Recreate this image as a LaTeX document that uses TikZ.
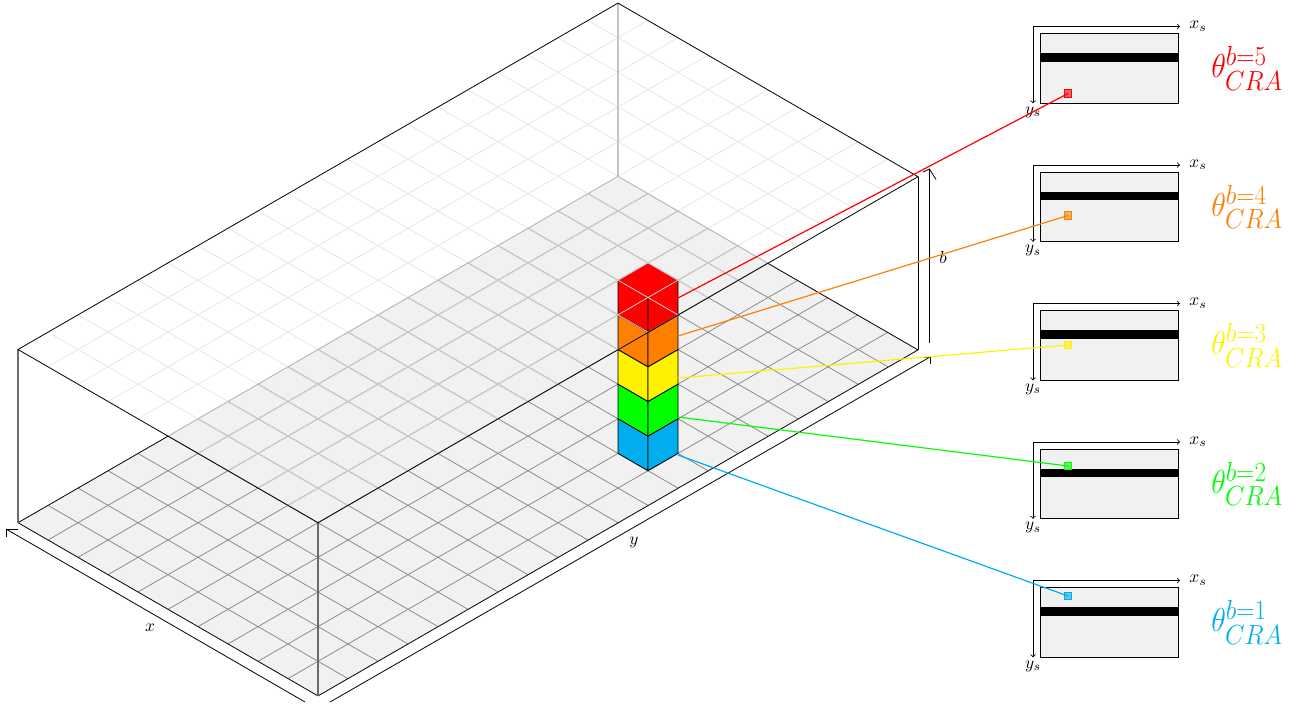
\documentclass[tikz,border=0pt]{standalone}
\usepackage{amsmath}
\definecolor{floorfill}{HTML}{F1F1F1}
\definecolor{gridmain}{HTML}{8C8C8C}
\definecolor{gridfade}{HTML}{D2D2D2}
\definecolor{gridtop}{HTML}{E6E6E6}
\definecolor{edgefade}{HTML}{B4B4B4}
\definecolor{cR}{HTML}{FF0000}
\definecolor{cO}{HTML}{FF8000}
\definecolor{cY}{HTML}{FFF200}
\definecolor{cG}{HTML}{00FF00}
\definecolor{cB}{HTML}{00AEEF}
\tikzset{
  thinline/.style={line width=0.6pt},
  boxedge/.style={thinline,draw=black},
  greyedge/.style={line width=0.9pt,draw=black!58},
  cubeface/.style={thinline,draw=black,line join=round},
  connector/.style={line width=0.9pt},
  marker/.style={draw=#1,fill=#1,fill opacity=0.6,line width=0.6pt,minimum size=5.6pt,inner sep=0pt,rectangle},
  panel/.style={draw=black,fill=floorfill,line width=0.6pt},
  thetalabel/.style={font=\Huge,xscale=0.915,text=#1,inner sep=0pt},
  axislabel/.style={inner sep=0pt,scale=1.3},
}
\begin{document}
\begin{tikzpicture}[x=0.75pt,y=-0.75pt,>=to]
\useasboundingbox (0,0) rectangle (1300,708);
% box corners
\coordinate (TL) at (18,349.5);
\coordinate (TB) at (618,3.1);
\coordinate (TR) at (918,176.7);
\coordinate (TF) at (318,522.7);
\coordinate (FL) at (18,522.7);
\coordinate (FB) at (618,176.3);
\coordinate (FR) at (918,349.9);
\coordinate (FF) at (318,695.9);
\coordinate (OL) at (168.3,436);
\coordinate (OR) at (768,263.4);
% top plane grid
\foreach \i in {1,...,9}
  \draw[gridtop,thinline] (18+30*\i,349.5+17.32*\i) -- ++(600,-346.4);
\foreach \j in {1,...,19}
  \draw[gridtop,thinline] (18+30*\j,349.5-17.32*\j) -- ++(300,173.2);
% back vertical
\draw[line width=0.8pt,draw=edgefade!80] (TB) -- (FB);
% floor
\fill[floorfill] (FL) -- (FB) -- (FR) -- (FF) -- cycle;
\foreach \i in {1,...,9}
  \draw[gridmain,thinline] (18+30*\i,522.7+17.32*\i) -- ++(600,-346.4);
\foreach \j in {1,...,19}
  \draw[gridmain,thinline] (18+30*\j,522.7-17.32*\j) -- ++(300,173.2);
\draw[boxedge] (OL) -- (FL) -- (FF) -- (FR) -- (OR);
% cube stack
\foreach \k/\c in {0/cB,1/cG,2/cY,3/cO,4/cR}{
  \pgfmathsetmacro{\dy}{470.7-34.64*\k}
  \filldraw[cubeface,fill=\c] (648,\dy) -- (618,\dy-17.32) -- (618,\dy-51.96) -- (648,\dy-34.64) -- cycle;
  \filldraw[cubeface,fill=\c] (648,\dy) -- (678,\dy-17.32) -- (678,\dy-51.96) -- (648,\dy-34.64) -- cycle;
}
\fill[cR] (648,263.1) -- (678,280.4) -- (648,297.8) -- (618,280.4) -- cycle;
% faded floor and top plane grid seen over the floor
\begin{scope}
  \clip (TL) -- (TB) -- (TR) -- (TF) -- cycle;
  \clip (FL) -- (FB) -- (FR) -- (FF) -- cycle;
  \foreach \i in {1,...,9}
    \draw[gridfade,thinline] (18+30*\i,522.7+17.32*\i) -- ++(600,-346.4);
  \foreach \j in {1,...,19}
    \draw[gridfade,thinline] (18+30*\j,522.7-17.32*\j) -- ++(300,173.2);
\end{scope}
\draw[line width=0.7pt,edgefade,dash pattern=on 1.2pt off 0.3pt] (OL) -- (FB) -- (OR);
% box outlines
\draw[greyedge] (TL) -- (FL);
\draw[greyedge] (TF) -- (FF);
\draw[boxedge] (TR) -- (FR);
\draw[boxedge] (TL) -- (TB) -- (TR) -- (TF) -- cycle;
% dimension arrows
\coordinate (xS) at (305,702);
\coordinate (xT) at (6,529);
\coordinate (xA) at (18,529);
\coordinate (xC) at (6,537);
\draw[boxedge] (xS) -- (xT);
\draw[boxedge] (xA) -- (xT) -- (xC);
\coordinate (yS) at (330,702);
\coordinate (yT) at (930,357);
\coordinate (yA) at (917,357);
\coordinate (yC) at (930,364);
\draw[boxedge] (yS) -- (yT);
\draw[boxedge] (yA) -- (yT) -- (yC);
\coordinate (bS) at (929.5,342.5);
\coordinate (bT) at (929.5,169);
\coordinate (bA) at (923,172);
\coordinate (bC) at (936,179.5);
\draw[boxedge] (bS) -- (bT);
\draw[boxedge] (bA) -- (bT) -- (bC);
\node[axislabel] (lx) at (150,628) {$x$};
\node[axislabel] (ly) at (634,542) {$y$};
\node[axislabel] (lb) at (943,257) {$b$};
% panels
\foreach \n/\t/\c/\my/\bnum in {5/33.3/cR/93.5/5,4/171.8/cO/215.5/4,3/310.3/cY/345/3,2/448.8/cG/466/2,1/587.3/cB/596/1}{
  \node[panel,rectangle,minimum width=103.8pt,minimum height=52pt,inner sep=0pt,anchor=north west] (p\n) at (1040,\t) {};
  \fill[black] (1040,\t+20) rectangle (1178.4,\t+28.2);
  \coordinate (o\n) at (1033,\t-6.8);
  \coordinate (ax\n) at (1180,\t-6.8);
  \coordinate (ay\n) at (1033,\t+70);
  \draw[->,boxedge] (o\n) -- (ax\n);
  \draw[->,boxedge] (o\n) -- (ay\n);
  \node[axislabel] (xl\n) at (1198,\t-7) {$x_s$};
  \node[axislabel] (yl\n) at (1033,\t+79) {$y_s$};
  \node[thetalabel=\c,anchor=west] (th\n) at (1211,\t+35) {$\theta^{b=\bnum}_{CRA}$};
  \node[marker=\c] (m\n) at (1068,\my) {};
}
% connectors
\coordinate (c5) at (678,298);
\coordinate (c4) at (678,336);
\coordinate (c3) at (678,378);
\coordinate (c2) at (678,417);
\coordinate (c1) at (678,455);
\draw[connector,cR] (c5) -- (m5.center);
\draw[connector,cO] (c4) -- (m4.center);
\draw[connector,cY] (c3) -- (m3.center);
\draw[connector,cG] (c2) -- (m2.center);
\draw[connector,cB] (c1) -- (m1.center);
\end{tikzpicture}
\end{document}
